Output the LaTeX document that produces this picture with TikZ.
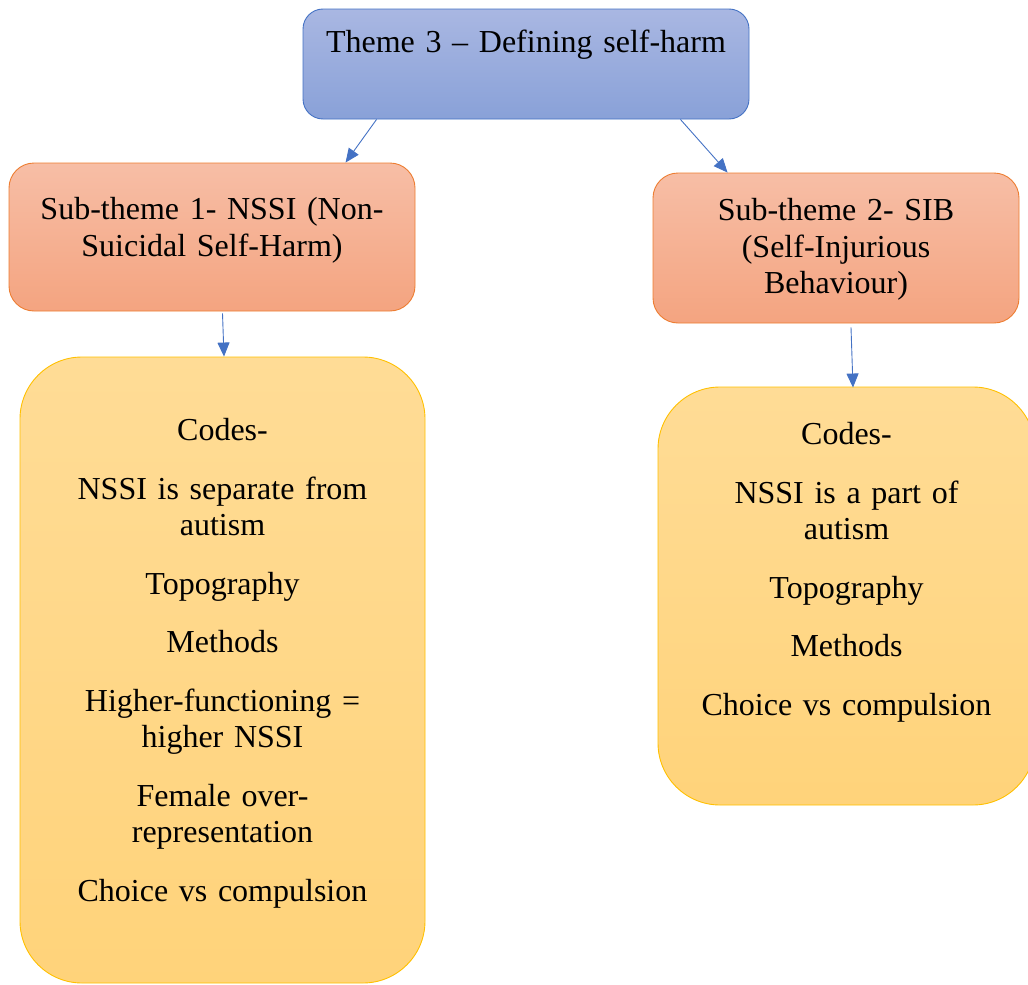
\documentclass[tikz,border=0pt]{standalone}
\usepackage{fontspec}
\setmainfont{Liberation Serif}
\usepackage{tikz}
\usetikzlibrary{arrows.meta,positioning}

\definecolor{themetop}{RGB}{169,183,226}
\definecolor{themebot}{RGB}{137,161,216}
\definecolor{themeline}{RGB}{68,114,196}
\definecolor{subtop}{RGB}{247,190,166}
\definecolor{subbot}{RGB}{244,164,128}
\definecolor{subline}{RGB}{237,125,49}
\definecolor{codetop}{RGB}{255,220,150}
\definecolor{codebot}{RGB}{255,211,122}
\definecolor{codeline}{RGB}{255,192,0}

\tikzset{
  themebox/.style={draw=themeline, line width=0.9pt, rounded corners=20pt,
    top color=themetop, bottom color=themebot},
  subbox/.style={draw=subline, line width=0.9pt, rounded corners=25pt,
    top color=subtop, bottom color=subbot},
  codebox/.style={draw=codeline, line width=0.9pt, rounded corners=62pt,
    top color=codetop, bottom color=codebot},
  boxtext/.style={anchor=base, inner sep=0pt, text width=400pt, align=center,
    font=\fontsize{32}{36.5}\selectfont},
  conn/.style={draw=themeline, line width=0.9pt,
    -{Triangle[length=14pt,width=12pt]}}
}

\begin{document}
\begin{tikzpicture}[x=1pt,y=-1pt]
    \useasboundingbox (0,0) rectangle (1028,985);

    % boxes
    \node[themebox, minimum width=446pt, minimum height=110pt] (theme) at (526,64) {};
    \node[subbox, minimum width=406pt, minimum height=148pt] (subA) at (212,237) {};
    \node[subbox, minimum width=366pt, minimum height=150pt] (subB) at (836,248) {};
    \node[codebox, minimum width=405pt, minimum height=626pt] (codesA) at (222.5,670) {};
    \node[codebox, minimum width=377pt, minimum height=418pt] (codesB) at (846.5,596) {};

    % texts
    \node[boxtext] (themetxt) at ([yshift=-44pt]theme.north) {Theme 3 -- Defining self-harm};
    \node[boxtext] (subAtxt) at ([yshift=-57pt]subA.north) {Sub-theme 1- NSSI (Non-\\Suicidal Self-Harm)};
    \node[boxtext] (subBtxt) at ([yshift=-48pt]subB.north) {Sub-theme 2- SIB\\(Self-Injurious\\Behaviour)};
    \node[boxtext] (codesAtxt) at ([yshift=-84pt]codesA.north)
      {Codes-\\[22pt]
       NSSI is separate from\\autism\\[22pt]
       Topography\\[22pt]
       Methods\\[22pt]
       Higher-functioning =\\higher NSSI\\[22pt]
       Female over-\\representation\\[22pt]
       Choice vs compulsion};
    \node[boxtext] (codesBtxt) at ([yshift=-58pt]codesB.north)
      {Codes-\\[22pt]
       NSSI is a part of\\autism\\[22pt]
       Topography\\[22pt]
       Methods\\[22pt]
       Choice vs compulsion};

    % connectors
    \draw[conn] ([xshift=74pt]theme.south west) -- ([xshift=337pt]subA.north west);
    \draw[conn] ([xshift=-69pt]theme.south east) -- ([xshift=75pt]subB.north west);
    \draw[conn] ([xshift=10.5pt,yshift=-2pt]subA.south) -- ([xshift=1.5pt]codesA.north);
    \draw[conn] ([xshift=15pt,yshift=-4pt]subB.south) -- ([xshift=6.5pt,yshift=-1pt]codesB.north);
\end{tikzpicture}
\end{document}
